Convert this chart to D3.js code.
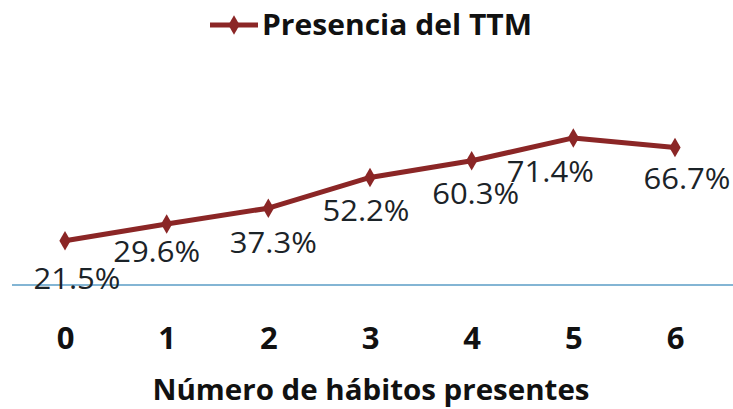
<!DOCTYPE html>
<html>
<head>
<meta charset="utf-8">
<script src="https://cdn.jsdelivr.net/npm/d3@7"></script>
<style>
  body { margin: 0; background: #fff; }
  text { font-family: "Open Sans", "DejaVu Sans", sans-serif; }
</style>
</head>
<body>
<div id="chart"></div>
<script>
const habits = ["0", "1", "2", "3", "4", "5", "6"];
const presence = [21.5, 29.6, 37.3, 52.2, 60.3, 71.4, 66.7];
const seriesName = "Presencia del TTM";
const axisTitle = "Número de hábitos presentes";

// manual nudges for the value labels (px from the point)
const labelDx = [12, -10, 5, -4, 4, -23, 12];
const labelDy = [27, 17, 24, 23, 22, 23, 20];

const width = 733, height = 409;
const lineColor = "#8b2626";

const svg = d3.select("#chart")
  .append("svg")
  .attr("width", width)
  .attr("height", height);

const x = d3.scalePoint().domain(habits).range([65, 675]);
const y = d3.scaleLinear().domain([0, 100]).range([285, 79]);

// baseline
svg.append("line")
  .attr("x1", 12)
  .attr("x2", 733)
  .attr("y1", y(0))
  .attr("y2", y(0))
  .attr("stroke", "#5a9cc6")
  .attr("stroke-width", 1.6);

// x axis tick labels
const gx = svg.append("g")
  .attr("transform", `translate(0,${y(0)})`)
  .call(d3.axisBottom(x).tickSize(0).tickPadding(0));
gx.select(".domain").remove();
gx.selectAll("text")
  .attr("dy", null)
  .attr("y", 64)
  .attr("fill", "#111")
  .attr("font-size", "31px")
  .attr("font-weight", "bold")
  .style("font-family", "'Open Sans', sans-serif");

// axis title
svg.append("text")
  .attr("x", 371)
  .attr("y", 400)
  .attr("text-anchor", "middle")
  .attr("font-size", "29px")
  .attr("font-weight", "bold")
  .attr("fill", "#111")
  .attr("textLength", 437)
  .attr("lengthAdjust", "spacingAndGlyphs")
  .text(axisTitle);

// line
const data = habits.map((h, i) => ({ h, v: presence[i], i }));
svg.append("path")
  .datum(data)
  .attr("fill", "none")
  .attr("stroke", lineColor)
  .attr("stroke-width", 5)
  .attr("stroke-linejoin", "round")
  .attr("d", d3.line().x(d => x(d.h)).y(d => y(d.v)));

const diamond = d3.symbol().type(d3.symbolDiamond).size(110);
svg.selectAll("path.pt")
  .data(data)
  .enter().append("path")
  .attr("class", "pt")
  .attr("transform", d => `translate(${x(d.h)},${y(d.v)})`)
  .attr("d", diamond)
  .attr("fill", lineColor);

// value labels
svg.selectAll("text.val")
  .data(data)
  .enter().append("text")
  .attr("class", "val")
  .attr("x", d => x(d.h) + labelDx[d.i])
  .attr("y", d => y(d.v) + labelDy[d.i] + 21)
  .attr("text-anchor", "middle")
  .attr("font-size", "29px")
  .attr("fill", "#1b2328")
  .attr("textLength", 87)
  .attr("lengthAdjust", "spacingAndGlyphs")
  .text(d => d.v.toFixed(1) + "%");

// legend
const legend = svg.append("g").attr("transform", "translate(0,25)");
legend.append("line")
  .attr("x1", 210).attr("x2", 258)
  .attr("stroke", lineColor)
  .attr("stroke-width", 5);
legend.append("path")
  .attr("transform", "translate(234,0)")
  .attr("d", diamond)
  .attr("fill", lineColor);
legend.append("text")
  .attr("x", 262)
  .attr("y", 10)
  .attr("font-size", "29px")
  .attr("font-weight", "bold")
  .attr("fill", "#111")
  .attr("textLength", 270)
  .attr("lengthAdjust", "spacingAndGlyphs")
  .text(seriesName);
</script>
</body>
</html>
